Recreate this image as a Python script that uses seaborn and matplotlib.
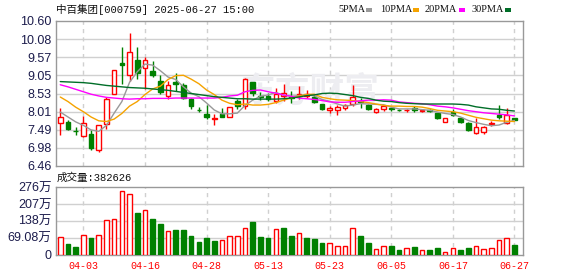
import matplotlib
matplotlib.use("Agg")
import numpy as np
import pandas as pd
import seaborn as sns
import matplotlib.pyplot as plt
from matplotlib.patches import Rectangle

# ---------------- data ----------------
dates = ["04-03", "04-16", "04-28", "05-13", "05-23", "06-05", "06-17", "06-27"]
date_pos = [3, 11, 19, 27, 35, 43, 51, 59]

opens = [7.69, 7.71, 7.46, 7.31, 7.36, 6.92, 7.67, 8.51, 9.40, 9.07,
         9.48, 9.26, 9.17, 8.89, 8.47, 8.85, 8.76, 8.38, 8.07, 7.94,
         7.80, 7.94, 7.87, 8.31, 8.17, 8.86, 8.46, 8.47, 8.33, 8.45,
         8.43, 8.45, 8.47, 8.43, 8.22, 8.06, 8.05, 8.11, 8.22, 8.32,
         8.20, 7.99, 8.08, 8.11, 8.06, 8.05, 8.13, 8.04, 8.06, 7.97,
         7.73, 8.00, 7.83, 7.70, 7.40, 7.44, 7.66, 7.91, 7.69, 7.83]
highs = [8.11, 7.76, 7.57, 7.90, 7.48, 7.64, 8.42, 9.20, 9.85, 10.25,
         9.87, 9.56, 9.45, 9.07, 8.89, 9.11, 8.83, 8.40, 8.14, 8.19,
         7.94, 8.13, 8.15, 8.38, 8.96, 8.87, 8.56, 8.55, 8.68, 8.81,
         8.60, 8.74, 8.64, 8.50, 8.24, 8.17, 8.19, 8.24, 8.78, 8.41,
         8.24, 8.13, 8.19, 8.13, 8.08, 8.09, 8.17, 8.10, 8.08, 7.98,
         7.83, 8.08, 7.86, 7.73, 7.84, 7.61, 7.75, 8.19, 8.13, 7.84]
lows = [7.34, 7.48, 7.34, 7.29, 6.93, 6.87, 7.52, 8.51, 8.79, 8.89,
        8.93, 8.65, 9.00, 8.51, 8.37, 8.60, 8.36, 8.10, 7.99, 7.80,
        7.64, 7.85, 7.85, 8.08, 8.08, 8.45, 8.34, 8.31, 8.25, 8.31,
        8.27, 8.38, 8.41, 8.27, 8.06, 7.96, 7.92, 8.05, 8.17, 8.13,
        8.05, 7.96, 8.03, 8.02, 8.02, 8.01, 7.99, 8.00, 8.00, 7.81,
        7.73, 7.89, 7.70, 7.45, 7.37, 7.37, 7.61, 7.80, 7.66, 7.76]
closes = [7.85, 7.52, 7.45, 7.69, 6.96, 7.62, 8.37, 9.20, 9.34, 9.71,
          9.12, 9.48, 9.05, 8.56, 8.78, 8.80, 8.41, 8.17, 8.05, 7.85,
          7.82, 7.87, 8.14, 8.17, 8.95, 8.55, 8.42, 8.36, 8.52, 8.55,
          8.40, 8.53, 8.52, 8.29, 8.08, 8.13, 8.14, 8.20, 8.44, 8.30,
          8.08, 8.08, 8.16, 8.10, 8.05, 8.06, 8.06, 8.06, 8.02, 7.82,
          7.82, 7.91, 7.73, 7.50, 7.56, 7.56, 7.68, 7.85, 7.91, 7.78]

ma5 = [8.00, 7.86, 7.72, 7.62, 7.49, 7.45, 7.62, 7.97, 8.30, 8.85,
       9.15, 9.37, 9.34, 9.18, 9.00, 8.93, 8.72, 8.54, 8.44, 8.26,
       8.06, 7.95, 7.95, 7.97, 8.19, 8.34, 8.45, 8.49, 8.56, 8.48,
       8.45, 8.47, 8.50, 8.46, 8.36, 8.31, 8.23, 8.17, 8.20, 8.24,
       8.23, 8.22, 8.21, 8.14, 8.09, 8.09, 8.09, 8.07, 8.05, 8.00,
       7.96, 7.93, 7.86, 7.76, 7.70, 7.65, 7.61, 7.63, 7.71, 7.76]
ma10 = [8.43, 8.30, 8.14, 8.01, 7.86, 7.75, 7.73, 7.80, 7.96, 8.17,
        8.30, 8.50, 8.66, 8.74, 8.93, 9.04, 9.05, 8.94, 8.81, 8.63,
        8.50, 8.34, 8.25, 8.21, 8.23, 8.20, 8.20, 8.22, 8.27, 8.34,
        8.40, 8.46, 8.50, 8.51, 8.42, 8.38, 8.35, 8.34, 8.33, 8.30,
        8.27, 8.23, 8.19, 8.17, 8.17, 8.16, 8.16, 8.14, 8.10, 8.05,
        8.03, 8.01, 7.97, 7.91, 7.85, 7.81, 7.77, 7.75, 7.74, 7.73]
ma20 = [8.78, 8.72, 8.65, 8.58, 8.51, 8.46, 8.42, 8.40, 8.38, 8.37,
        8.38, 8.38, 8.39, 8.39, 8.39, 8.40, 8.40, 8.40, 8.40, 8.40,
        8.40, 8.42, 8.46, 8.48, 8.58, 8.62, 8.63, 8.58, 8.54, 8.49,
        8.45, 8.40, 8.38, 8.36, 8.33, 8.29, 8.28, 8.28, 8.30, 8.32,
        8.34, 8.34, 8.35, 8.34, 8.29, 8.27, 8.25, 8.24, 8.21, 8.17,
        8.15, 8.12, 8.08, 8.04, 8.01, 7.98, 7.96, 7.94, 7.92, 7.89]
ma30 = [8.87, 8.86, 8.85, 8.84, 8.82, 8.79, 8.76, 8.74, 8.72, 8.70,
        8.69, 8.68, 8.66, 8.64, 8.62, 8.59, 8.56, 8.53, 8.50, 8.47,
        8.44, 8.42, 8.40, 8.38, 8.38, 8.37, 8.37, 8.37, 8.37, 8.38,
        8.40, 8.43, 8.47, 8.49, 8.53, 8.54, 8.53, 8.50, 8.47, 8.42,
        8.39, 8.34, 8.31, 8.30, 8.27, 8.25, 8.24, 8.23, 8.23, 8.23,
        8.23, 8.23, 8.22, 8.20, 8.15, 8.12, 8.09, 8.08, 8.05, 8.03]

# volume in 万
volume = [73, 43, 32, 80, 69, 80, 142, 146, 261, 249,
          171, 183, 147, 125, 97, 101, 101, 77, 53, 69,
          57, 60, 76, 76, 110, 131, 73, 69, 105, 110,
          77, 87, 69, 64, 49, 46, 35, 35, 108, 77,
          49, 21, 35, 35, 18.5, 25, 31, 18.5, 18.5, 27,
          12, 25, 18.5, 27, 35, 23, 27, 58, 67, 38.26]
vol_up = [1, 0, 0, 1, 0, 1, 1, 1, 1, 1,
          0, 1, 0, 0, 1, 0, 0, 0, 0, 0,
          0, 1, 1, 1, 1, 0, 0, 0, 1, 0,
          0, 1, 0, 0, 0, 1, 1, 1, 1, 0,
          0, 1, 1, 0, 0, 1, 0, 1, 0, 0,
          1, 1, 0, 0, 1, 1, 1, 1, 1, 0]

price_ticks = ["6.46", "6.98", "7.49", "8.01", "8.53", "9.05", "9.57", "10.08", "10.60"]
vol_ticks = ["0", "69.08万", "138万", "207万", "276万"]
ma_names = ["5PMA", "10PMA", "20PMA", "30PMA"]
title = "中百集团[000759] 2025-06-27 15:00"
vol_title = "成交量:382626"

# ---------------- style ----------------
sns.set_theme(style="white")
plt.rcParams["font.family"] = ["Liberation Sans", "Noto Sans CJK SC"]

RED = "#ff0000"
GREEN = "#008000"
MA_COLORS = ["#999999", "#f5a300", "#ff00ff", "#006e28"]
GRID = "#d0d0d0"
FRAME = "#999999"
LABEL = "#1c1c4c"

W, H = 578, 276
fig = plt.figure(figsize=(W / 100, H / 100), dpi=100)
fig.patch.set_facecolor("white")

L, R = 55.5, 522.7
ax_p = fig.add_axes([L / W, 1 - 166 / H, (R - L) / W, (166 - 21) / H])
ax_v = fig.add_axes([L / W, 1 - 254.5 / H, (R - L) / W, (254.5 - 187) / H])

idx = np.arange(len(closes))
o = np.array(opens); c = np.array(closes)
hi = np.array(highs); lo = np.array(lows)
up = c >= o
xlim = (-0.62, 60.07)

# ---- price panel ----
ymin, ymax = 6.46, 10.60
yt = np.linspace(ymin, ymax, len(price_ticks))
for y in yt[1:-1]:
    ax_p.axhline(y, color=GRID, lw=1, zorder=0)
for p in date_pos:
    ax_p.axvline(p, color=GRID, lw=1, ls=(0, (3, 3)), zorder=0)

ax_p.text(0.545, 0.52, "东方财富", transform=ax_p.transAxes, ha="center", va="center",
          fontsize=25, color="#ededf1", family=["Noto Sans CJK SC"], fontweight="bold", zorder=0.5)

cols = np.where(up, RED, GREEN)
ax_p.vlines(idx, lo, hi, colors=cols, lw=1, zorder=3)
bottom = np.minimum(o, c)
height = np.maximum(np.abs(c - o), 0.004)
ax_p.bar(idx[up], height[up], bottom=bottom[up], width=0.6, facecolor="white",
         edgecolor=RED, linewidth=1, zorder=4)
ax_p.bar(idx[~up], height[~up], bottom=bottom[~up], width=0.6, facecolor=GREEN,
         edgecolor=GREEN, linewidth=1, zorder=4)

ma_df = pd.DataFrame({"i": idx, "5PMA": ma5, "10PMA": ma10, "20PMA": ma20, "30PMA": ma30})
for name, col in zip(ma_names, MA_COLORS):
    sns.lineplot(data=ma_df, x="i", y=name, ax=ax_p, color=col, lw=1, legend=False, zorder=5)

ax_p.set_xlim(*xlim)
ax_p.set_ylim(ymin, ymax)
ax_p.set_yticks(yt)
ax_p.set_yticklabels(price_ticks)
ax_p.set_xticks([])
ax_p.set_xlabel(""); ax_p.set_ylabel("")
ax_p.tick_params(axis="y", length=0, pad=3, labelsize=9, labelcolor=LABEL)
for s in ax_p.spines.values():
    s.set_color(FRAME); s.set_linewidth(1)

# ---- volume panel ----
vmax = 276.32
vt = np.linspace(0, vmax, len(vol_ticks))
for y in vt[1:-1]:
    ax_v.axhline(y, color=GRID, lw=1, zorder=0)
for p in date_pos:
    ax_v.axvline(p, color=GRID, lw=1, ls=(0, (3, 3)), zorder=0)

vdf = pd.DataFrame({"i": idx, "v": volume, "up": vol_up})
sns.barplot(data=vdf[vdf.up == 1], x="i", y="v", native_scale=True, ax=ax_v,
            color="white", edgecolor=RED, linewidth=1, width=0.6, saturation=1,
            errorbar=None, zorder=3)
sns.barplot(data=vdf[vdf.up == 0], x="i", y="v", native_scale=True, ax=ax_v,
            color=GREEN, edgecolor=GREEN, linewidth=1, width=0.6, saturation=1,
            errorbar=None, zorder=3)

ax_v.set_xlim(*xlim)
ax_v.set_ylim(0, vmax)
ax_v.set_yticks(vt)
ax_v.set_yticklabels(vol_ticks)
ax_v.set_xticks(date_pos)
ax_v.set_xticklabels(dates)
ax_v.set_xlabel(""); ax_v.set_ylabel("")
ax_v.tick_params(axis="y", length=0, pad=3, labelsize=9, labelcolor=LABEL)
ax_v.tick_params(axis="x", length=0, pad=5, labelsize=7.2, labelcolor=RED)
for lab in ax_v.get_xticklabels():
    lab.set_family(["Liberation Mono"])
for s in ax_v.spines.values():
    s.set_color(FRAME); s.set_linewidth(1)

# ---- texts ----
fig.text(56 / W, 1 - 9.5 / H, title, ha="left", va="center", fontsize=7.6,
         color="#111111", family=["Liberation Mono", "Noto Sans CJK SC"])
fig.text(57 / W, 1 - 178 / H, vol_title, ha="left", va="center", fontsize=7.6,
         color="#111111", family=["Liberation Mono", "Noto Sans CJK SC"])

leg_x = [338, 380, 425, 472]
sq_x = [366, 413, 459, 505]
for name, col, tx, sx in zip(ma_names, MA_COLORS, leg_x, sq_x):
    fig.text(tx / W, 1 - 9.5 / H, name, ha="left", va="center", fontsize=7.4,
             color="#111111", family=["Liberation Serif"])
    fig.add_artist(Rectangle((sx / W, 1 - 11.5 / H), 6 / W, 4 / H,
                             transform=fig.transFigure, facecolor=col, edgecolor="none"))

fig.savefig("out.png", dpi=100, facecolor="white")
